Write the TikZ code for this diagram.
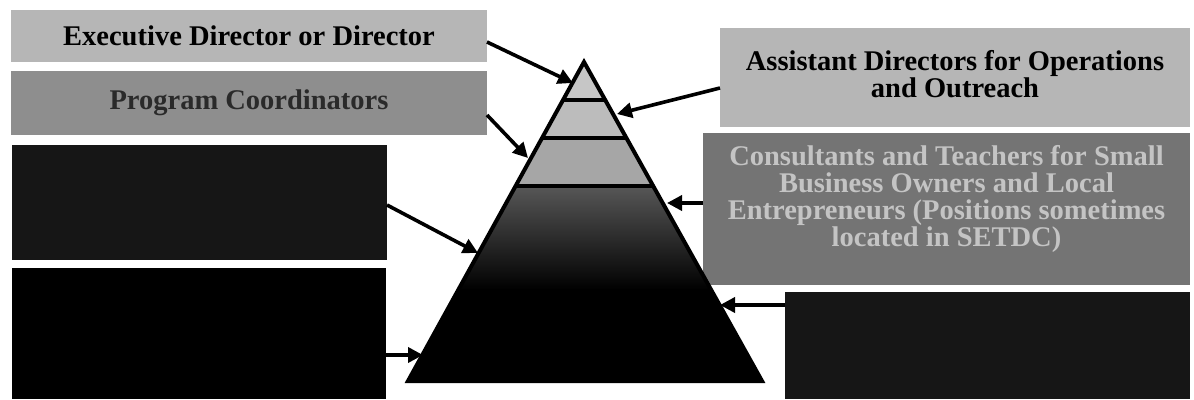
\documentclass[tikz,border=0pt]{standalone}
\usepackage{fontspec}
\setmainfont{Liberation Serif}
\usetikzlibrary{arrows.meta,calc}
\definecolor{lightbox}{HTML}{B6B6B6}
\definecolor{midbox}{HTML}{8E8E8E}
\definecolor{consbox}{HTML}{747474}
\definecolor{darkbox}{HTML}{161616}
\definecolor{layerA}{HTML}{C6C6C6}
\definecolor{layerB}{HTML}{BCBCBC}
\definecolor{layerC}{HTML}{A6A6A6}
\definecolor{constext}{HTML}{C4C4C4}
\definecolor{progtext}{HTML}{2A2A2A}
\begin{document}
\begin{tikzpicture}[x=1pt,y=-1pt,
  boxnode/.style={rectangle, anchor=north west, inner sep=0pt, outer sep=0pt,
    align=center, font=\fontsize{28.5}{28}\selectfont\bfseries},
  textnode/.style={inner sep=0pt, align=center, font=\fontsize{28.5}{27}\selectfont\bfseries},
  arr/.style={line width=3.6pt, -{Triangle[length=15pt,width=15pt]}},
  layerline/.style={line width=4pt, black}]
\useasboundingbox (0,0) rectangle (1194,399);
\fill[white] (0,0) rectangle (1194,399);

% boxes
\node[boxnode, fill=lightbox, minimum width=476pt, minimum height=52pt] (exec) at (11,10) {Executive Director or Director};
\node[boxnode, fill=midbox, text=progtext, minimum width=476pt, minimum height=64pt] (prog) at (11,71) {Program Coordinators};
\node[boxnode, fill=darkbox, minimum width=375pt, minimum height=115pt] (lefta) at (12,145) {};
\node[boxnode, fill=black, minimum width=374pt, minimum height=131pt] (leftb) at (12,268) {};
\node[boxnode, fill=lightbox, minimum width=470pt, minimum height=99pt] (asst) at (720,28) {};
\node[textnode] (assttext) at ($(asst.center)+(0,-3)$) {Assistant Directors for Operations\\and Outreach};
\node[boxnode, fill=consbox, minimum width=487pt, minimum height=152pt] (cons) at (703,133) {};
\node[textnode, text=constext] (constxt) at ($(cons.center)+(0,-10)$) {Consultants and Teachers for Small\\Business Owners and Local\\Entrepreneurs (Positions sometimes\\located in SETDC)};
\node[boxnode, fill=darkbox, minimum width=405pt, minimum height=107pt] (righta) at (785,292) {};

% pyramid
\coordinate (apex) at (584,62);
\coordinate (bl) at (408,381);
\coordinate (br) at (762,381);
\begin{scope}
\clip (apex) -- (br) -- (bl) -- cycle;
\fill[layerA] (400,55) rectangle (770,100);
\fill[layerB] (400,100) rectangle (770,138);
\fill[layerC] (400,138) rectangle (770,186);
\shade[top color=black!66, bottom color=black] (400,186) rectangle (770,290);
\fill[black] (400,289) rectangle (770,385);
\end{scope}
\draw[layerline] (563,100) -- (605,100);
\draw[layerline] (542,138) -- (626,138);
\draw[layerline] (515.6,186) -- (652.4,186);
\draw[line width=4pt, line join=miter] (apex) -- (br) -- (bl) -- cycle;

% arrow tips
\coordinate (t1) at (573,83);
\coordinate (t2) at (617,114);
\coordinate (t3) at (528,158);
\coordinate (t4) at (478,253);
\coordinate (t5) at (667,203);
\coordinate (t6) at (720,305);
\coordinate (t7) at (423,355);

% arrows
\draw[arr] ($(exec.north east)+(0,32)$) -- (t1);
\draw[arr] ($(asst.north west)+(0,60)$) -- (t2);
\draw[arr] ($(prog.north east)+(0,44)$) -- (t3);
\draw[arr] ($(lefta.north east)+(0,60)$) -- (t4);
\draw[arr] ($(cons.north west)+(0,70)$) -- (t5);
\draw[arr] ($(righta.north west)+(0,13)$) -- (t6);
\draw[arr] ($(leftb.north east)+(0,87)$) -- (t7);
\end{tikzpicture}
\end{document}
